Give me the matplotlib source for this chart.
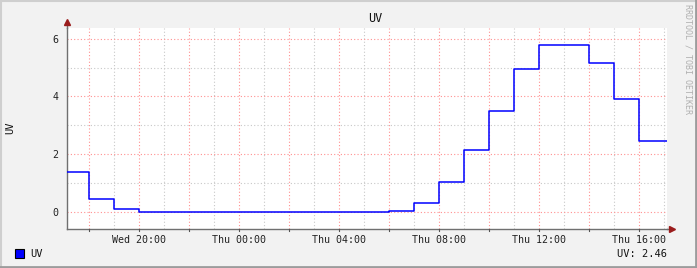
import matplotlib
matplotlib.use('Agg')
import matplotlib.pyplot as plt
import matplotlib.dates as mdates
from matplotlib.lines import Line2D
from datetime import datetime, timedelta

# Stundenwerte UV (Stufen beginnen an den Zeitpunkten)
step_times = ['2024-05-15 17:08', '2024-05-15 18:00', '2024-05-15 19:00', '2024-05-15 20:00',
              '2024-05-16 06:00', '2024-05-16 07:00', '2024-05-16 08:00', '2024-05-16 09:00',
              '2024-05-16 10:00', '2024-05-16 11:00', '2024-05-16 12:00', '2024-05-16 14:00',
              '2024-05-16 15:00', '2024-05-16 16:00', '2024-05-16 17:08']
uv_values = [1.36, 0.45, 0.10, 0.00, 0.03, 0.31, 1.01, 2.14, 3.51, 4.94, 5.78, 5.16, 3.90, 2.46, 2.46]
y_ticks = [0, 2, 4, 6]
y_minor = [1, 3, 5]
last_label = 'UV: 2.46'

times = [datetime.strptime(t, '%Y-%m-%d %H:%M') for t in step_times]

mono = 'DejaVu Sans Mono'
bg = '#f2f2f2'

fig = plt.figure(figsize=(6.97, 2.68), dpi=100, facecolor=bg)
ax = fig.add_axes([67 / 697, 1 - 228.5 / 268, 600 / 697, 200.5 / 268])
ax.set_facecolor('white')

ax.plot(times, uv_values, drawstyle='steps-post', color='#0000ff', linewidth=1.1, zorder=5)

ax.set_xlim(times[0], times[-1])
ax.set_ylim(-0.59, 6.38)

ax.xaxis.set_major_locator(mdates.HourLocator(byhour=range(0, 24, 4)))
ax.xaxis.set_major_formatter(mdates.DateFormatter('%a %H:%M'))
ax.set_yticks(y_ticks)

# Gitter: stündlich grau, alle 2 Stunden rot
t = times[0].replace(minute=0) + timedelta(hours=1)
while t < times[-1]:
    if t.hour % 2 == 0:
        ax.axvline(t, color='#ff9090', linestyle=(0, (1, 2)), linewidth=0.8, zorder=1)
        ax.plot([t, t], [0, -0.014], transform=ax.get_xaxis_transform(), color='#555555',
                linewidth=0.8, clip_on=False, zorder=6)
    else:
        ax.axvline(t, color='#c8c8c8', linestyle=(0, (1, 2)), linewidth=0.8, zorder=1)
    t += timedelta(hours=1)
for v in y_ticks:
    ax.axhline(v, color='#ff9090', linestyle=(0, (1, 2)), linewidth=0.8, zorder=1)
for v in y_minor:
    ax.axhline(v, color='#c8c8c8', linestyle=(0, (1, 2)), linewidth=0.8, zorder=1)

ax.tick_params(axis='both', which='both', length=0, labelsize=7.2, colors='#222222')
ax.tick_params(axis='x', pad=5)
ax.tick_params(axis='y', pad=6)
for lab in ax.get_xticklabels() + ax.get_yticklabels():
    lab.set_fontfamily(mono)

for s in ['top', 'right']:
    ax.spines[s].set_visible(False)
for s in ['left', 'bottom']:
    ax.spines[s].set_color('#707070')
    ax.spines[s].set_linewidth(1.0)

# Achsenpfeile
ax.plot([0, 0], [1, 1.03], transform=ax.transAxes, color='#707070', linewidth=1.0, clip_on=False)
ax.plot([1, 1.008], [0, 0], transform=ax.transAxes, color='#707070', linewidth=1.0, clip_on=False)
ax.plot([0], [1.03], marker='^', markersize=4, color='#9a1c1c', transform=ax.transAxes, clip_on=False)
ax.plot([1.008], [0], marker='>', markersize=4, color='#9a1c1c', transform=ax.transAxes, clip_on=False)

# Texte
fig.text(375 / 697, 1 - 19 / 268, 'UV', ha='center', va='center', fontsize=8.5, family=mono, color='#111111')
fig.text(10 / 697, 1 - 128 / 268, 'UV', ha='center', va='center', rotation=90, fontsize=7.5,
         family=mono, color='#111111')
fig.text(688 / 697, 1 - 59 / 268, 'RRDTOOL / TOBI OETIKER', ha='center', va='center', rotation=270,
         fontsize=6, family=mono, color='#b0b0b0')

# Legende
fig.patches.append(plt.Rectangle((15 / 697, 1 - 258 / 268), 9 / 697, 9 / 268, transform=fig.transFigure,
                                 facecolor='#0000ff', edgecolor='black', linewidth=0.8))
fig.text(30 / 697, 1 - 254 / 268, 'UV', ha='left', va='center', fontsize=7.5, family=mono, color='#111111')
fig.text(667 / 697, 1 - 254 / 268, last_label, ha='right', va='center', fontsize=7.5, family=mono,
         color='#111111')

# Rahmen
fig.add_artist(Line2D([0, 1], [1 - 0.5 / 268, 1 - 0.5 / 268], transform=fig.transFigure, color='#cfcfcf', linewidth=1.5))
fig.add_artist(Line2D([0.5 / 697, 0.5 / 697], [0, 1], transform=fig.transFigure, color='#cfcfcf', linewidth=1.5))
fig.add_artist(Line2D([0, 1], [0.7 / 268, 0.7 / 268], transform=fig.transFigure, color='#9c9c9c', linewidth=2))
fig.add_artist(Line2D([1 - 0.7 / 697, 1 - 0.7 / 697], [0, 1], transform=fig.transFigure, color='#9c9c9c', linewidth=2))

fig.savefig('out.png', dpi=100, facecolor=bg)
